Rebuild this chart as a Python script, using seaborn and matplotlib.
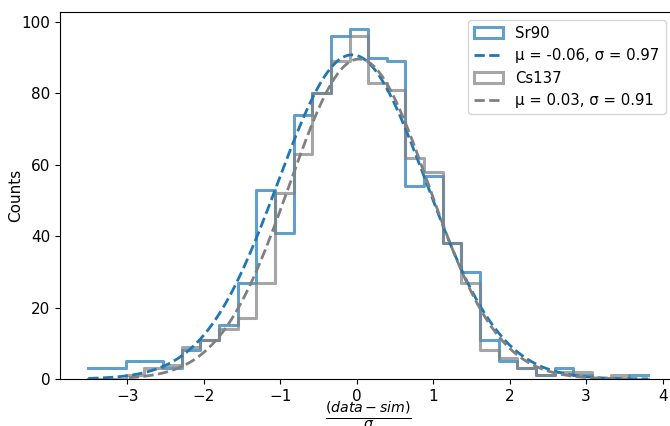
import numpy as np
import pandas as pd
import matplotlib
matplotlib.use("Agg")
import matplotlib.pyplot as plt
from matplotlib.patches import Patch
from matplotlib.lines import Line2D
import seaborn as sns

# ---- data ----
bin_lo, bin_hi, n_bins = -3.51, 3.81, 30
sr90_counts = [3, 3, 5, 5, 3, 8, 11, 15, 27, 53, 41, 74, 80, 96, 98,
               90, 89, 54, 57, 38, 30, 11, 5, 3, 1, 3, 1, 0, 0, 1]
cs137_counts = [0, 0, 1, 3, 4, 9, 11, 14, 17, 27, 52, 63, 80, 89, 96,
                83, 81, 62, 58, 38, 27, 8, 6, 3, 1, 2, 2, 0, 1, 0]
sr90_fit = {"mu": -0.06, "sigma": 0.97, "range": (-3.51, 3.81)}
cs137_fit = {"mu": 0.03, "sigma": 0.91, "range": (-2.98, 3.55)}
labels = ["Sr90", "Cs137"]
xlabel = r"$\frac{(data - sim)}{\sigma}$"
ylabel = "Counts"

edges = np.linspace(bin_lo, bin_hi, n_bins + 1)
centers = 0.5 * (edges[:-1] + edges[1:])
bw = edges[1] - edges[0]

df_sr = pd.DataFrame({"x": centers, "w": sr90_counts})
df_cs = pd.DataFrame({"x": centers, "w": cs137_counts})

plt.rcParams["font.family"] = ["DejaVu Sans"]
plt.rcParams["font.size"] = 11

fig = plt.figure(figsize=(6.7, 4.26), dpi=100)
ax = fig.add_axes([0.09, 0.1103, 0.919, 0.8622])

c_sr, c_cs = "#1f77b4", "gray"

sns.histplot(data=df_sr, x="x", weights="w", bins=n_bins,
             binrange=(bin_lo, bin_hi),
             element="step", fill=False, color=c_sr, alpha=0.7,
             linewidth=2.2, ax=ax)
sns.histplot(data=df_cs, x="x", weights="w", bins=n_bins,
             binrange=(bin_lo, bin_hi),
             element="step", fill=False, color=c_cs, alpha=0.7,
             linewidth=2.2, ax=ax)

def gauss_curve(fit, counts):
    xs = np.linspace(fit["range"][0], fit["range"][1], 300)
    n = np.sum(counts)
    ys = n * bw / (fit["sigma"] * np.sqrt(2 * np.pi)) * \
        np.exp(-0.5 * ((xs - fit["mu"]) / fit["sigma"]) ** 2)
    return xs, ys

xs, ys = gauss_curve(sr90_fit, sr90_counts)
sns.lineplot(x=xs, y=ys, color=c_sr, linestyle="--", linewidth=2, ax=ax)
xs, ys = gauss_curve(cs137_fit, cs137_counts)
sns.lineplot(x=xs, y=ys, color=c_cs, linestyle="--", linewidth=2, ax=ax)

ax.set_xlim(bin_lo - 0.05 * (bin_hi - bin_lo), bin_hi + 0.05 * (bin_hi - bin_lo))
ax.set_ylim(0, 98 * 1.05)
ax.set_xticks([-3, -2, -1, 0, 1, 2, 3, 4])
ax.set_yticks([0, 20, 40, 60, 80, 100])
ax.tick_params(labelsize=11)
ax.set_xlabel(xlabel, fontsize=14.5, labelpad=-3)
ax.set_ylabel(ylabel, fontsize=11)
ax.yaxis.set_label_coords(-0.06, 0.5)

handles = [
    Patch(facecolor="none", edgecolor=c_sr, alpha=0.7, linewidth=2.2),
    Line2D([], [], color=c_sr, linestyle="--", linewidth=2),
    Patch(facecolor="none", edgecolor=c_cs, alpha=0.7, linewidth=2.2),
    Line2D([], [], color=c_cs, linestyle="--", linewidth=2),
]
texts = [labels[0],
         f"μ = {sr90_fit['mu']:.2f}, σ = {sr90_fit['sigma']:.2f}",
         labels[1],
         f"μ = {cs137_fit['mu']:.2f}, σ = {cs137_fit['sigma']:.2f}"]
ax.legend(handles, texts, loc="upper right", fontsize=10.7,
          bbox_to_anchor=(0.995, 0.998))

fig.savefig("out.png", dpi=100)
